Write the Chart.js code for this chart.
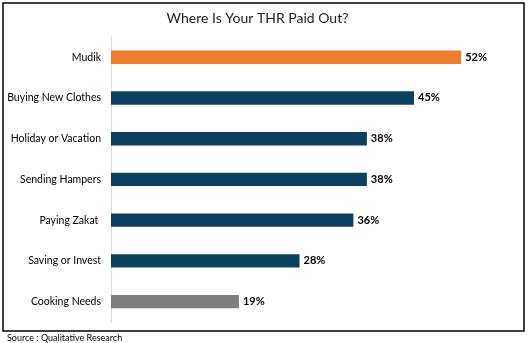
<!DOCTYPE html>
<html>
<head>
<meta charset="utf-8">
<script src="https://cdn.jsdelivr.net/npm/chart.js@4"></script>
<style>
  html, body { margin: 0; padding: 0; background: #fff; }
  #wrap { width: 532px; height: 343px; }
</style>
</head>
<body>
<div id="wrap"><canvas id="myChart" width="532" height="343"></canvas></div>
<script>
var categories = ['Mudik', 'Buying New Clothes', 'Holiday or Vacation', 'Sending Hampers', 'Paying Zakat ', 'Saving or Invest', 'Cooking Needs'];
var shares = [52, 45, 38, 38, 36, 28, 19];
var barColors = ['#ED7D31', '#0B4060', '#0B4060', '#0B4060', '#0B4060', '#0B4060', '#7F7F7F'];

// frame around the chart, plus the source note underneath
var framePlugin = {
    id: 'frame',
    beforeDraw: function (chart) {
        var c = chart.ctx;
        c.save();
        c.fillStyle = '#fff';
        c.fillRect(0, 0, chart.width, chart.height);
        c.strokeStyle = '#000';
        c.lineWidth = 1.5;
        c.strokeRect(3, 3, 521, 328);
        c.fillStyle = '#000';
        c.font = '9px Lato';
        c.textBaseline = 'middle';
        c.fillText('Source : Qualitative Research', 7, 338);
        c.restore();
    }
};

// percentage text at the end of each bar
var valueLabels = {
    id: 'valueLabels',
    afterDatasetsDraw: function (chart) {
        var c = chart.ctx;
        var meta = chart.getDatasetMeta(0);
        c.save();
        c.fillStyle = '#000';
        c.font = 'bold 11px Lato';
        c.textBaseline = 'middle';
        meta.data.forEach(function (bar, i) {
            c.fillText(shares[i] + '%', bar.x + 4, bar.y);
        });
        c.restore();
    }
};

var ctx = document.getElementById('myChart').getContext('2d');
var myChart = new Chart(ctx, {
    type: 'bar',
    data: {
        labels: categories,
        datasets: [{
            data: shares,
            backgroundColor: barColors,
            categoryPercentage: 1,
            barPercentage: 0.33
        }]
    },
    plugins: [framePlugin, valueLabels],
    options: {
        indexAxis: 'y',
        responsive: false,
        animation: false,
        layout: { padding: { top: 6, right: 17, bottom: 21, left: 0 } },
        plugins: {
            legend: { display: false },
            tooltip: { enabled: false },
            title: {
                display: true,
                text: 'Where Is Your THR Paid Out?',
                color: '#222',
                font: { family: 'Lato', size: 14, weight: 'normal' },
                padding: { top: 4, bottom: 10 }
            }
        },
        scales: {
            x: {
                display: false,
                min: 0,
                max: 60
            },
            y: {
                grid: { display: false },
                border: { display: true, color: '#D9D9D9', width: 1 },
                ticks: {
                    color: '#000',
                    padding: 2,
                    font: { family: 'Lato', size: 10.5 }
                },
                afterFit: function (scale) { scale.width = 111; }
            }
        }
    }
});
</script>
</body>
</html>
